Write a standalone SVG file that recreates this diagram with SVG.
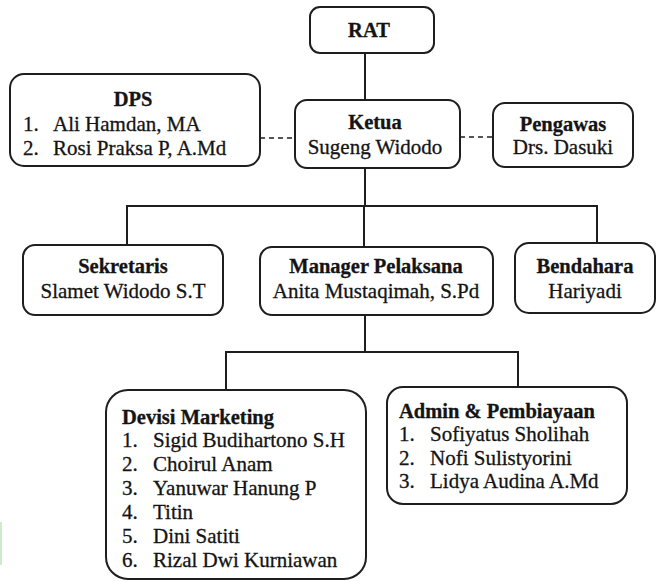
<svg xmlns="http://www.w3.org/2000/svg" width="658" height="582" viewBox="0 0 658 582">
<style>
.box{fill:#fff;stroke:#1e1e1e;stroke-width:2}
.ln{fill:none;stroke:#1e1e1e;stroke-width:2}
.dash{fill:none;stroke:#1e1e1e;stroke-width:1.6;stroke-dasharray:5 4}
text{font-family:"Liberation Serif","Times New Roman",serif;font-size:21px;fill:#141414;stroke:#141414;stroke-width:0.3}
.b{font-weight:bold;font-size:20.5px}
.c{text-anchor:middle}
</style>
<rect width="658" height="582" fill="#fff"/>
<rect x="0" y="522" width="2" height="43" fill="#cdeccd"/>
<g id="connectors">
<path class="ln" d="M365 53V100"/>
<path class="dash" d="M260 138H295"/>
<path class="dash" d="M460 137H493"/>
<path class="ln" d="M365 168V206M127 245V206H597V243M364 206V247"/>
<path class="ln" d="M365 315V352M226 390V352H518V387"/>
</g>
<g id="rat">
<rect class="box" x="310" y="7" width="124" height="46" rx="10"/>
<text class="b c" x="369" y="37">RAT</text>
</g>
<g id="dps">
<rect class="box" x="10" y="74" width="250" height="92" rx="14"/>
<text class="b c" x="133" y="106">DPS</text>
<text x="23" y="131">1.</text><text x="53" y="131">Ali Hamdan, MA</text>
<text x="23" y="155">2.</text><text x="53" y="155">Rosi Praksa P, A.Md</text>
</g>
<g id="ketua">
<rect class="box" x="295" y="100" width="165" height="68" rx="12"/>
<text class="b c" x="375" y="129">Ketua</text>
<text class="c" x="375" y="154">Sugeng Widodo</text>
</g>
<g id="pengawas">
<rect class="box" x="493" y="103" width="140" height="64" rx="12"/>
<text class="b c" x="563" y="131">Pengawas</text>
<text class="c" x="563" y="154">Drs. Dasuki</text>
</g>
<g id="sekretaris">
<rect class="box" x="23" y="245" width="200" height="70" rx="12"/>
<text class="b c" x="123" y="273">Sekretaris</text>
<text class="c" x="123" y="298">Slamet Widodo S.T</text>
</g>
<g id="manager">
<rect class="box" x="260" y="247" width="233" height="68" rx="12"/>
<text class="b c" x="376" y="273">Manager Pelaksana</text>
<text class="c" x="376" y="298">Anita Mustaqimah, S.Pd</text>
</g>
<g id="bendahara">
<rect class="box" x="515" y="243" width="140" height="70" rx="14"/>
<text class="b c" x="585" y="273">Bendahara</text>
<text class="c" x="585" y="298">Hariyadi</text>
</g>
<g id="devisi">
<rect class="box" x="106" y="390" width="260" height="189" rx="22"/>
<text class="b" x="122" y="424">Devisi Marketing</text>
<text x="122" y="447">1.</text><text x="153" y="447">Sigid Budihartono S.H</text>
<text x="122" y="471">2.</text><text x="153" y="471">Choirul Anam</text>
<text x="122" y="495">3.</text><text x="153" y="495">Yanuwar Hanung P</text>
<text x="122" y="519">4.</text><text x="153" y="519">Titin</text>
<text x="122" y="543">5.</text><text x="153" y="543">Dini Satiti</text>
<text x="122" y="567">6.</text><text x="153" y="567">Rizal Dwi Kurniawan</text>
</g>
<g id="admin">
<rect class="box" x="387" y="387" width="240" height="117" rx="16"/>
<text class="b" x="399" y="418">Admin &amp; Pembiayaan</text>
<text x="399" y="441">1.</text><text x="430" y="441">Sofiyatus Sholihah</text>
<text x="399" y="465">2.</text><text x="430" y="465">Nofi Sulistyorini</text>
<text x="399" y="488">3.</text><text x="430" y="488">Lidya Audina A.Md</text>
</g>
</svg>
